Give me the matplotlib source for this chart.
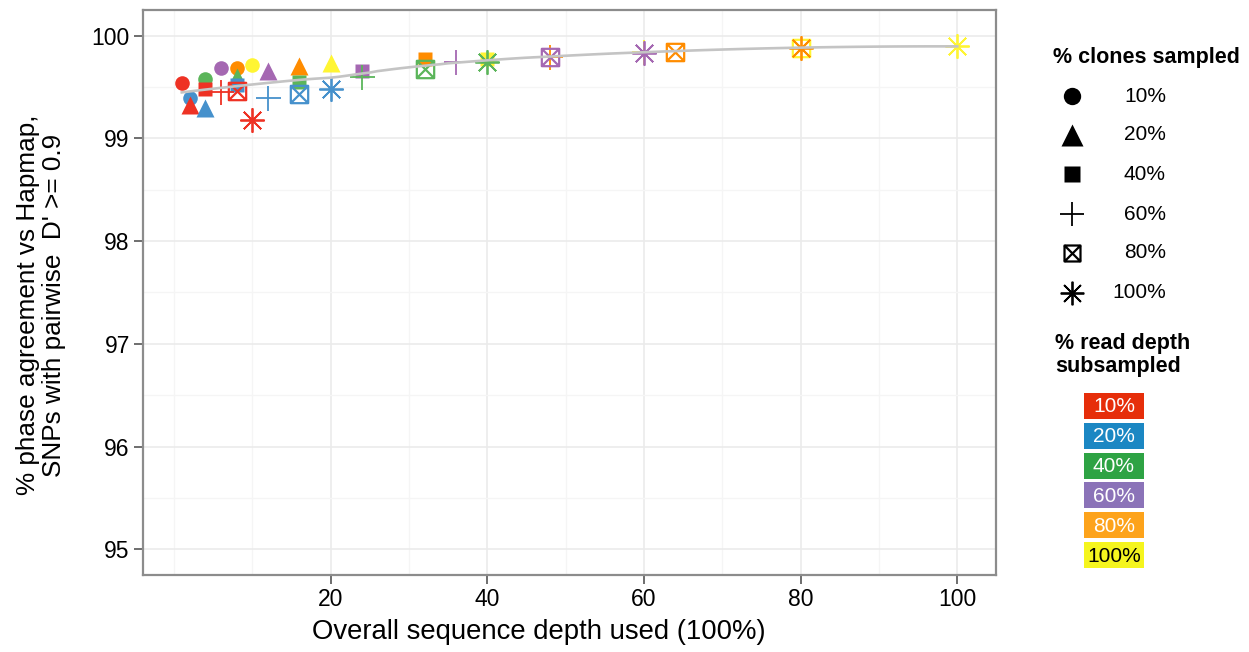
import numpy as np
import matplotlib
matplotlib.use("Agg")
from matplotlib import pyplot as plt
from matplotlib.path import Path

plt.rcParams['font.family'] = ['Liberation Sans', 'DejaVu Sans']

# % clones sampled -> marker, % read depth -> colour
clone_pct = [10, 20, 40, 60, 80, 100]
read_pct = [10, 20, 40, 60, 80, 100]

# phase agreement (%) per clone level, one value per read depth level
agree_10 = [99.54, 99.39, 99.58, 99.69, 99.69, 99.71]
agree_20 = [99.33, 99.30, 99.60, 99.66, 99.70, 99.73]
agree_40 = [99.48, 99.52, 99.55, 99.66, 99.77, 99.77]
agree_60 = [99.45, 99.39, 99.60, 99.74, 99.79, 99.84]
agree_80 = [99.46, 99.43, 99.68, 99.79, 99.84, 99.88]
agree_100 = [99.18, 99.48, 99.74, 99.83, 99.88, 99.90]
agreement = [agree_10, agree_20, agree_40, agree_60, agree_80, agree_100]

point_colors = ['#EE3224', '#4691CC', '#5BB55A', '#A568B2', '#FF8C00', '#FFF533']
legend_colors = ['#E62E0A', '#1B87C3', '#2EA344', '#8B73B8', '#FDA31B', '#F5F51E']
legend_text_colors = ['white', 'white', 'white', 'white', 'white', 'black']

# box with an X inside (R pch 7)
boxx = Path([(-1, -1), (1, -1), (1, 1), (-1, 1), (-1, -1),
             (-1, -1), (1, 1), (-1, 1), (1, -1)],
            [Path.MOVETO, Path.LINETO, Path.LINETO, Path.LINETO, Path.CLOSEPOLY,
             Path.MOVETO, Path.LINETO, Path.MOVETO, Path.LINETO])
# (marker, size, filled, linewidth, legend size)
shapes = [('o', 10.5, True, 0, 12.5), ('^', 13, True, 0, 16), ('s', 10.5, True, 0, 11.5),
          ('+', 18, False, 1.3, 17), (boxx, 12.5, False, 1.6, 11.5), ((8, 2, 0), 17.5, False, 1.3, 17)]


def loess(x, y, xs, span=0.75):
    x = np.asarray(x, float)
    y = np.asarray(y, float)
    n = len(x)
    q = int(np.floor(n * span))
    out = []
    for x0 in xs:
        d = np.abs(x - x0)
        dmax = np.sort(d)[q - 1]
        w = np.clip(1 - (d / dmax) ** 3, 0, None) ** 3
        A = np.vstack([np.ones(n), x - x0, (x - x0) ** 2]).T
        W = np.sqrt(w)
        coef = np.linalg.lstsq(A * W[:, None], y * W, rcond=None)[0]
        out.append(coef[0])
    return np.array(out)


fig = plt.figure(figsize=(12.49, 6.52), dpi=100)
ax = fig.add_axes([143 / 1249, 1 - 575 / 652, (996 - 143) / 1249, (575 - 10) / 652])

all_x = []
all_y = []
for ci, c in enumerate(clone_pct):
    m, ms, filled, lw, _ = shapes[ci]
    for ri, r in enumerate(read_pct):
        xv = c * r / 100.0
        yv = agreement[ci][ri]
        all_x.append(xv)
        all_y.append(yv)
        col = point_colors[ri]
        if filled:
            ax.plot([xv], [yv], marker=m, ms=ms, color=col, mec='none', ls='none', zorder=3)
        else:
            ax.plot([xv], [yv], marker=m, ms=ms, color=col, mfc='none', mew=lw, ls='none', zorder=3)

xs = np.linspace(min(all_x), max(all_x), 100)
ax.plot(xs, loess(all_x, all_y, xs), color='#C4C4C4', lw=1.9, zorder=4)

ax.set_xticks([20, 40, 60, 80, 100])
ax.set_xticks(np.arange(0, 101, 10), minor=True)
ax.set_yticks([95, 96, 97, 98, 99, 100])
ax.set_yticks(np.arange(95.5, 100.1, 1.0), minor=True)
ax.set_xlim(-3.95, 104.95)
ax.set_ylim(94.75, 100.25)
ax.tick_params(which='minor', length=0)
ax.tick_params(which='major', length=6.5, width=1.2, color='#555555', labelsize=16.5, pad=3)
ax.grid(which='major', color='#EBEBEB', lw=1.2)
ax.grid(which='minor', color='#F5F5F5', lw=1.0)
ax.set_axisbelow(True)
for s in ax.spines.values():
    s.set_color('#8C8C8C')
    s.set_linewidth(1.6)

ax.set_xlabel('Overall sequence depth used (100%)', fontsize=19.8)
ax.xaxis.set_label_coords((539 - 143) / 853, (575 - 632) / 565)
ax.xaxis.label.set_va('center')
ax.set_ylabel("% phase agreement vs Hapmap,\nSNPs with pairwise  D' >= 0.9", fontsize=18.8,
              linespacing=1.1)
ax.yaxis.set_label_coords((66 - 143) / 853, 1 - (305 - 10) / 565)

# legends drawn in pixel space
lg = fig.add_axes([0, 0, 1, 1])
lg.set_xlim(0, 1249)
lg.set_ylim(652, 0)
lg.axis('off')
lg.patch.set_alpha(0)

lg.text(1053, 58, '% clones sampled', fontsize=15.5, fontweight='bold', va='center')
row_y = [96, 135, 174, 214, 253, 293]
for ci, c in enumerate(clone_pct):
    m, ms, filled, lw, lms = shapes[ci]
    if filled:
        lg.plot([1072], [row_y[ci]], marker=m, ms=lms, color='black', mec='none')
    else:
        lg.plot([1072], [row_y[ci]], marker=m, ms=lms, color='black', mfc='none', mew=lw)
    lg.text(1166, row_y[ci], f'{c}%', fontsize=15, ha='right', va='center')

lg.text(1055, 355, '% read depth\nsubsampled', fontsize=15.5, fontweight='bold', va='center',
        linespacing=1.1)
box_y = [406, 436, 466, 495, 525, 555]
for ri, r in enumerate(read_pct):
    lg.add_patch(plt.Rectangle((1084, box_y[ri] - 13), 60, 26, color=legend_colors[ri], lw=0))
    lg.text(1114, box_y[ri] + 1, f'{r}%', fontsize=15, ha='center', va='center',
            color=legend_text_colors[ri])

fig.savefig('out.png', dpi=100)
